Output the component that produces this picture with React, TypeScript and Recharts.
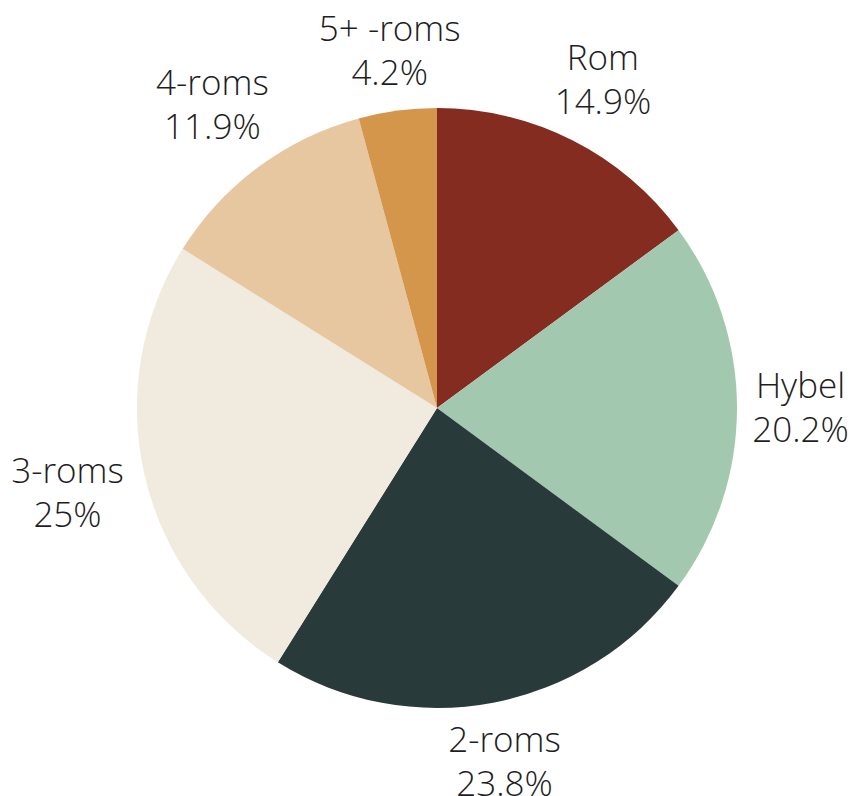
import { Pie, PieChart, Cell } from "recharts";

const categories = ["Rom", "Hybel", "2-roms", "3-roms", "4-roms", "5+ -roms"];
const shares = [14.9, 20.2, 23.8, 25, 11.9, 4.2];
const colors = ["#832C1F", "#A3C8B0", "#293A3A", "#F0EADF", "#E6C7A0", "#D4964A"];

const data = categories.map((name, i) => ({ name, value: shares[i] }));

const RAD = Math.PI / 180;

// places the two-line label box just outside the rim, like the source's
// label layout: the box edge sits a fixed gap away from the pie
function renderLabel(props: any) {
  const { cx, cy, midAngle, outerRadius, name, value } = props;
  const line2 = `${value}%`;
  const halfW = Math.max(String(name).length, line2.length) * 9.5;
  const halfH = 34;
  const cos = Math.cos(-midAngle * RAD);
  const sin = Math.sin(-midAngle * RAD);
  const r = outerRadius + 16 + Math.abs(cos) * halfW + Math.abs(sin) * halfH;
  const x = cx + r * cos;
  const y = cy + r * sin;
  return (
    <text
      x={x}
      y={y}
      textAnchor="middle"
      fill="#1e1e1e"
      fontSize={35}
      fontWeight={300}
      fontFamily="'Open Sans', sans-serif"
    >
      <tspan x={x} y={y - 10}>{name}</tspan>
      <tspan x={x} y={y + 34}>{line2}</tspan>
    </text>
  );
}

export default function App() {
  return (
    <div style={{ position: "absolute", left: 0, top: 0, background: "#fff" }}>
      <PieChart width={855} height={796} margin={{ top: 0, right: 0, bottom: 0, left: 0 }}>
        <Pie
          data={data}
          dataKey="value"
          nameKey="name"
          cx={437}
          cy={408}
          outerRadius={300}
          startAngle={90}
          endAngle={-270}
          stroke="none"
          label={renderLabel}
          labelLine={false}
          isAnimationActive={false}
        >
          {data.map((d, i) => (
            <Cell key={d.name} fill={colors[i]} />
          ))}
        </Pie>
      </PieChart>
    </div>
  );
}
